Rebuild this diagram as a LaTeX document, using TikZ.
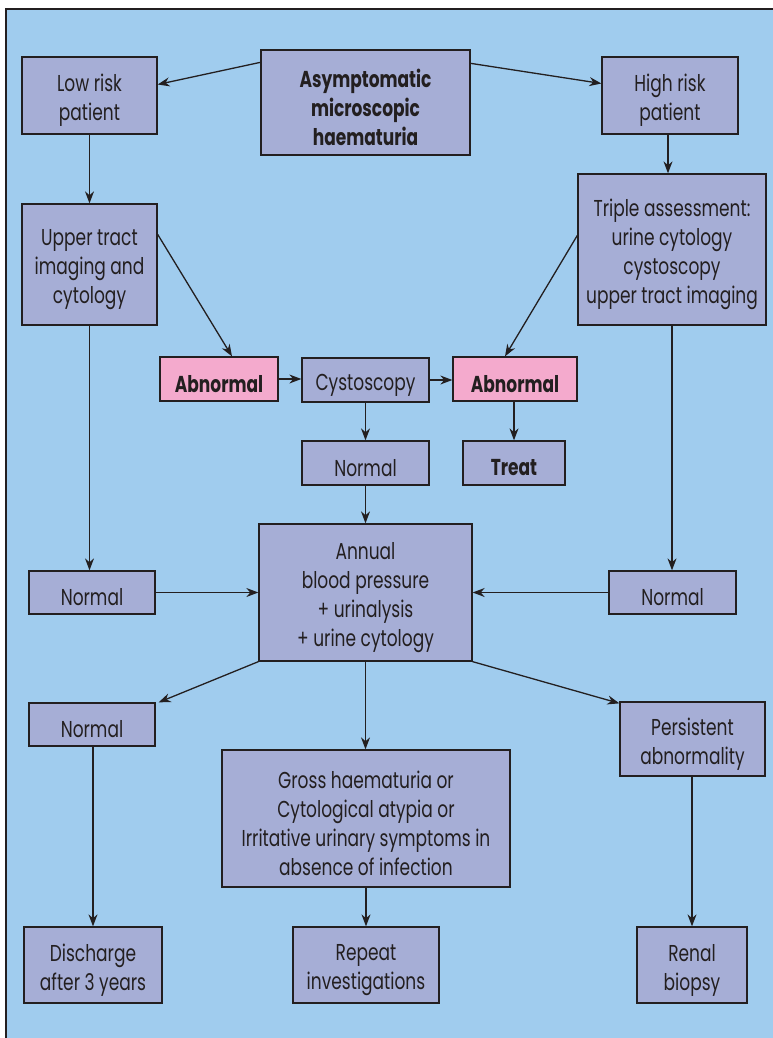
\documentclass[tikz,border=0pt]{standalone}
\usepackage{fontspec}
\setmainfont[FakeStretch=0.74]{Poppins}
\usetikzlibrary{arrows.meta}
\definecolor{bgblue}{RGB}{160,204,238}
\definecolor{boxfill}{RGB}{166,174,214}
\definecolor{pinkfill}{RGB}{244,170,205}
\definecolor{edge}{RGB}{35,31,32}
\tikzset{
  bx/.style={draw=edge, line width=1.3pt, fill=boxfill, inner sep=0pt},
  pk/.style={bx, fill=pinkfill},
  txt/.style={align=center, inner sep=0pt, font=\fontsize{23}{29}\selectfont, text=edge},
  arr/.style={draw=edge, line width=1.3pt, -{Stealth[length=12pt,width=9pt]}},
}
\newcommand{\bxat}[7]{% name, x1,y1,x2,y2, style, text
  \node[#6, minimum width=#4-#2, minimum height=#5-#3] (#1) at ({(#2+#4)/2},{(#3+#5)/2}) {};
  \node[txt] (#1-t) at ([yshift=-5pt]#1.center) {#7};}
\begin{document}
\begin{tikzpicture}[x=1pt,y=-1pt]
\useasboundingbox (0,0) rectangle (773,1038);
\fill[white] (0,0) rectangle (773,1038);
\fill[bgblue] (6,9) rectangle (773,1038);
\draw[edge, line width=1.2pt] (6,1038) -- (6,9) -- (773,9);
\bxat{asym}{261}{50}{470}{155}{bx}{\bfseries Asymptomatic\\\bfseries microscopic\\\bfseries haematuria}
\bxat{low}{22}{57}{157}{134}{bx}{Low risk\\patient}
\bxat{high}{602}{57}{738}{134}{bx}{High risk\\patient}
\bxat{upper}{22}{204}{157}{325}{bx}{Upper tract\\imaging and\\cytology}
\bxat{triple}{578}{174}{766}{325}{bx}{Triple assessment:\\urine cytology\\cystoscopy\\upper tract imaging}
\bxat{abnl}{160}{357}{278}{401}{pk}{\bfseries Abnormal}
\bxat{cysto}{302}{358}{429}{402}{bx}{Cystoscopy}
\bxat{abnr}{453}{357}{577}{401}{pk}{\bfseries Abnormal}
\bxat{normm}{302}{441}{429}{485}{bx}{Normal}
\bxat{treat}{463}{441}{565}{485}{bx}{\bfseries Treat}
\bxat{annual}{259}{524}{472}{661}{bx}{Annual\\blood pressure\\+ urinalysis\\+ urine cytology}
\bxat{norml}{29}{571}{155}{614}{bx}{Normal}
\bxat{normr}{609}{571}{736}{614}{bx}{Normal}
\bxat{normbl}{29}{703}{155}{746}{bx}{Normal}
\bxat{gross}{222}{750}{510}{887}{bx}{Gross haematuria or\\Cytological atypia or\\Irritative urinary symptoms in\\absence of infection}
\bxat{persist}{620}{702}{765}{776}{bx}{Persistent\\abnormality}
\bxat{disch}{24}{927}{162}{1003}{bx}{Discharge\\after 3 years}
\bxat{repeat}{293}{927}{439}{1003}{bx}{Repeat\\investigations}
\bxat{renal}{637}{927}{747}{1003}{bx}{Renal\\biopsy}
% connectors
\draw[arr] ([yshift=-13pt]asym.north west) -- ([yshift=11pt]low.east);
\draw[arr] ([yshift=-14pt]asym.north east) -- ([yshift=12pt]high.west);
\draw[arr] (low.south) -- (upper.north);
\draw[arr] ([xshift=-2pt]high.south) -- ([xshift=-2pt]high.south |- triple.north);
\draw[arr] ([yshift=-31pt]upper.north east) -- ([xshift=13pt]abnl.north);
\draw[arr] ([yshift=-62pt]triple.north west) -- ([xshift=-10pt]abnr.north);
\draw[arr] (abnl.east) -- (abnl.east -| cysto.west);
\draw[arr] (cysto.east) -- (cysto.east -| abnr.west);
\draw[arr] (cysto.south) -- (normm.north);
\draw[arr] (abnr.south -| treat.north) -- (treat.north);
\draw[arr] (normm.south) -- (annual.north -| normm.south);
\draw[arr] (upper.south) -- (upper.south |- norml.north);
\draw[arr] (triple.south) -- (triple.south |- normr.north);
\draw[arr] (norml.east) -- (annual.west |- norml.east);
\draw[arr] (normr.west) -- (annual.east |- normr.west);
\draw[arr] (annual.south west) -- ([xshift=3pt]normbl.north east);
\draw[arr] (annual.south) -- (annual.south |- gross.north);
\draw[arr] (annual.south east) -- ([yshift=-2pt]persist.north west);
\draw[arr] ([xshift=1pt]normbl.south) -- ([xshift=1pt]normbl.south |- disch.north);
\draw[arr] (gross.south) -- (gross.south |- repeat.north);
\draw[arr] ([xshift=-0.5pt]persist.south) -- ([xshift=-0.5pt]persist.south |- renal.north);
\end{tikzpicture}
\end{document}
